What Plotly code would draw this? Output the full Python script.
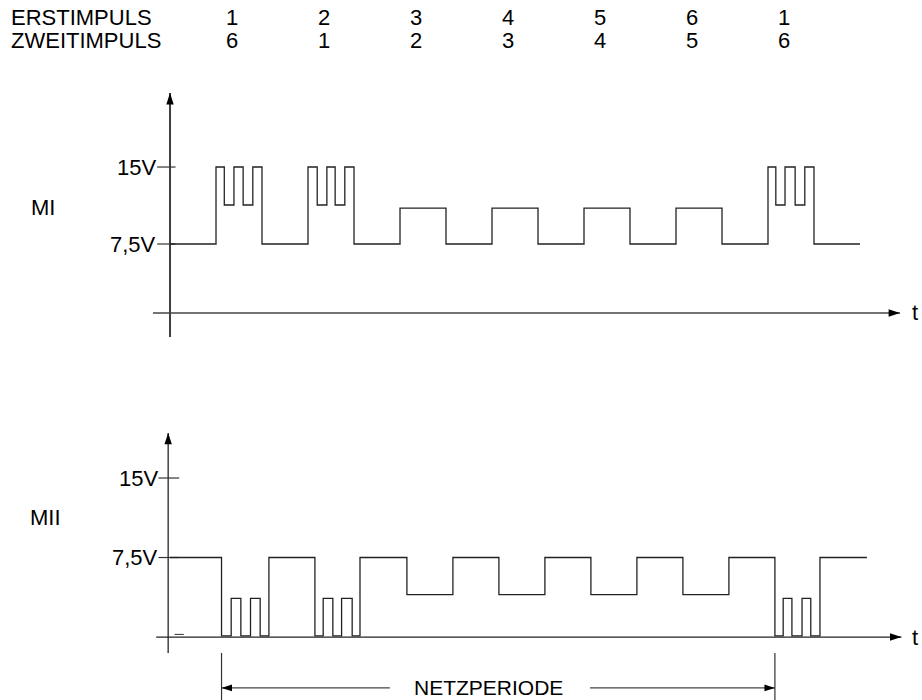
import plotly.graph_objects as go

# ---------------- data (time in slot units, voltage in V) ----------------
erst_labels = ["1", "2", "3", "4", "5", "6", "1"]
zweit_labels = ["6", "1", "2", "3", "4", "5", "6"]
label_t = [1.35, 3.35, 5.35, 7.35, 9.35, 11.35, 13.35]

mi_t = [0, 1, 1.18, 1.39, 1.59, 1.8, 2, 3, 3.2, 3.41, 3.59, 3.8, 4, 5, 6, 7, 8,
        9, 10, 11, 12, 13, 13.17, 13.37, 13.59, 13.8, 14, 15]
mi_v = [7.5, 15, 11.3, 15, 11.3, 15, 7.5, 15, 11.3, 15, 11.3, 15, 7.5, 11, 7.5,
        11, 7.5, 11, 7.5, 11, 7.5, 15, 11.3, 15, 11.3, 15, 7.5, 7.5]

mii_t = [0, 1.12, 1.33, 1.54, 1.75, 1.96, 2.15, 3.15, 3.33, 3.54, 3.73, 3.96,
         4.13, 5.15, 6.15, 7.15, 8.15, 9.15, 10.15, 11.15, 12.15, 13.15, 13.33,
         13.52, 13.74, 13.93, 14.13, 15.15]
mii_v = [7.5, 0.1, 3.65, 0.1, 3.65, 0.1, 7.5, 0.1, 3.65, 0.1, 3.65, 0.1, 7.5,
         4.0, 7.5, 4.0, 7.5, 4.0, 7.5, 4.0, 7.5, 0.1, 3.65, 0.1, 3.65, 0.1,
         7.5, 7.5]

tick_values = [15, 7.5]
tick_labels = ["15V", "7,5V"]

# axis geometry (slot units / volts)
top_axis_level = 0.78
top_y_span = [-1.56, 22.2]
bot_y_span = [-1.5, 19.25]
top_t_span = [-0.37, 15.87]
bot_t_span = [-0.3, 15.9]
period_start, period_end = mii_t[1], mii_t[21]
dim_level = -4.8

FONT = "Arial, Liberation Sans, sans-serif"
FS = 22
W, H = 922, 700
fig = go.Figure()

def line(x, y, yaxis, color="black", width=1.3, shape="linear"):
    fig.add_trace(go.Scatter(x=x, y=y, mode="lines", yaxis=yaxis,
                             line=dict(color=color, width=width, shape=shape),
                             hoverinfo="skip"))

def head(x, y, yaxis, angle, size=11):
    fig.add_trace(go.Scatter(x=[x], y=[y], mode="markers", yaxis=yaxis,
                             marker=dict(symbol="arrow", angle=angle, size=size,
                                         color="black", line=dict(width=0)),
                             hoverinfo="skip"))

# ---------- top panel (MI) ----------
line([0, 0], top_y_span, "y", width=1.5)
head(0, top_y_span[1], "y", 0, 12)
line(top_t_span, [top_axis_level, top_axis_level], "y", color="#444", width=1.3)
head(top_t_span[1], top_axis_level, "y", 90, 12)
for v in tick_values:
    line([-0.28, 0.12], [v, v], "y", color="#333", width=1.2)
line(mi_t, mi_v, "y", color="#222", width=1.3, shape="hv")

# ---------- bottom panel (MII) ----------
line([-0.04, -0.04], bot_y_span, "y2", color="#333", width=1.4)
head(-0.04, bot_y_span[1], "y2", 0, 12)
line(bot_t_span, [0, 0], "y2", color="#222", width=1.3)
head(bot_t_span[1], 0, "y2", 90, 12)
for v in tick_values:
    line([-0.25, 0.2], [v, v], "y2", color="#333", width=1.2)
line([0.1, 0.3], [0.25, 0.25], "y2", color="#333", width=1.0)
line(mii_t, mii_v, "y2", color="#222", width=1.3, shape="hv")

# ---------- NETZPERIODE dimension ----------
line([period_start, period_start], [-1.5, -7], "y2", color="#333", width=1.2)
line([period_end, period_end], [-1.5, -7], "y2", color="#333", width=1.2)
line([period_start, 4.78], [dim_level, dim_level], "y2", color="#444", width=1.3)
line([9.13, period_end], [dim_level, dim_level], "y2", color="#444", width=1.3)
head(period_start, dim_level, "y2", 270, 11)
head(period_end, dim_level, "y2", 90, 11)

ann = []
def text(s, x, y, yref, xanchor="center", xref="x", size=FS):
    ann.append(dict(text=s, x=x, y=y, xref=xref, yref=yref, showarrow=False,
                    xanchor=xanchor, yanchor="middle", borderpad=0,
                    font=dict(family=FONT, size=size, color="black")))

def px_x(p):
    return p / W

def px_y(p):
    return 1 - p / H

text("ERSTIMPULS", px_x(10), px_y(18), "paper", xanchor="left", xref="paper")
text("ZWEITIMPULS", px_x(10), px_y(40), "paper", xanchor="left", xref="paper")
for t, a, b in zip(label_t, erst_labels, zweit_labels):
    text(a, t, px_y(18), "paper")
    text(b, t, px_y(40), "paper")

text("MI", -2.76, 11.1, "y")
text("MII", -2.7, 11.3, "y2")
for v, s in zip(tick_values, tick_labels):
    text(s, -0.28, v, "y", xanchor="right")
    text(s, -0.25, v, "y2", xanchor="right")
text("t", 16.2, top_axis_level, "y")
text("t", 16.2, 0, "y2")
text("NETZPERIODE", 6.93, -4.75, "y2", size=21)

fig.update_layout(
    width=W, height=H, margin=dict(l=0, r=0, t=0, b=0),
    paper_bgcolor="white", plot_bgcolor="white", showlegend=False,
    xaxis=dict(range=[-3.696, 16.348], visible=False, fixedrange=True),
    yaxis=dict(range=[-36.92, 31.27], visible=False, fixedrange=True),
    yaxis2=dict(range=[-5.94, 60.09], visible=False, overlaying="y",
                fixedrange=True),
    annotations=ann,
)
fig.write_html(
    "out.html",
    config={"displayModeBar": False, "staticPlot": True},
    post_script="document.body.style.margin='0';"
                "document.body.style.overflow='hidden';",
)
